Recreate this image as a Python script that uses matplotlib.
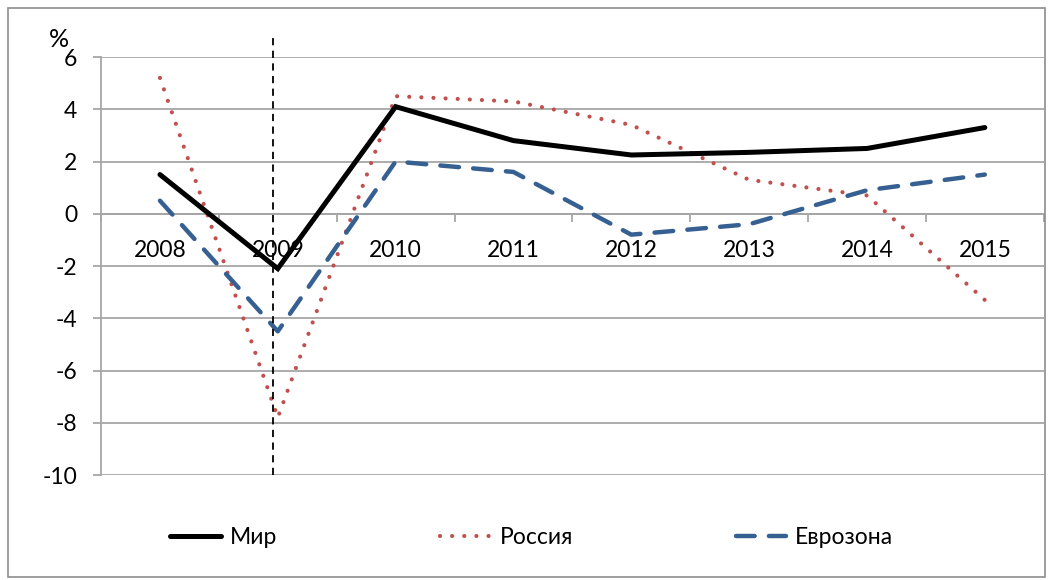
import matplotlib
matplotlib.use("Agg")
import matplotlib.pyplot as plt
from matplotlib.lines import Line2D
from matplotlib.patches import Rectangle

years = ["2008", "2009", "2010", "2011", "2012", "2013", "2014", "2015"]
world = [1.5, -2.1, 4.1, 2.8, 2.25, 2.35, 2.5, 3.3]
russia = [5.2, -7.8, 4.5, 4.3, 3.4, 1.3, 0.7, -3.3]
eurozone = [0.5, -4.5, 2.0, 1.6, -0.8, -0.4, 0.9, 1.5]

plt.rcParams['font.family'] = ['Lato', 'DejaVu Sans']
plt.rcParams['axes.unicode_minus'] = False

fig = plt.figure(figsize=(10.49, 5.8), dpi=100)
ax = fig.add_axes([0.0963, 0.181, 0.8987, 0.7207])

x = list(range(len(years)))
grid_col = "#a6a6a6"
red = "#c0504d"
blue = "#376092"
dots = (0, (0.01, 2.9))
dashes = (0, (4.2, 3.2))

ax.plot(x, world, color="black", lw=3.6, solid_capstyle="round",
        solid_joinstyle="miter", label="Мир", zorder=4)
ax.plot(x, russia, color=red, lw=3.0, linestyle=dots,
        dash_capstyle="round", label="Россия", zorder=3)
ax.plot(x, eurozone, color=blue, lw=3.2, linestyle=dashes,
        dash_capstyle="round", label="Еврозона", zorder=3)

# crisis marker
ax.axvline(0.96, ymin=0, ymax=1.057, color="black", lw=1.3,
           linestyle=(0, (4, 3)), clip_on=False, zorder=5)

ax.set_xlim(-0.5, len(years) - 0.5)
ax.set_ylim(-10, 6)
ax.set_yticks(range(-10, 7, 2))
ax.yaxis.grid(True, color=grid_col, lw=1.3)
ax.set_axisbelow(True)

for s in ["top", "right"]:
    ax.spines[s].set_visible(False)
ax.spines["left"].set_color(grid_col)
ax.spines["left"].set_linewidth(1.3)
ax.spines["bottom"].set_position(("data", 0))
ax.spines["bottom"].set_color(grid_col)
ax.spines["bottom"].set_linewidth(1.3)

ax.set_xticks(x)
ax.set_xticklabels(years)
ax.set_xticks([i + 0.5 for i in range(-1, len(years))], minor=True)
ax.tick_params(axis="x", which="major", length=0, pad=19, labelsize=16.5)
ax.tick_params(axis="x", which="minor", length=6, width=1.3, color=grid_col)
ax.tick_params(axis="y", length=6, width=1.3, color=grid_col, pad=11,
               labelsize=16.5)

fig.text(0.047, 0.932, "%", fontsize=18, ha="left", va="center")

handles = [
    Line2D([], [], color="black", lw=3.6, solid_capstyle="round"),
    Line2D([], [], color=red, lw=3.0, linestyle=dots, dash_capstyle="round"),
    Line2D([], [], color=blue, lw=3.2, linestyle=dashes, dash_capstyle="round"),
]
fig.legend(handles, ["Мир", "Россия", "Еврозона"], loc="center",
           bbox_to_anchor=(0.507, 0.073), ncol=3, frameon=False, fontsize=16.5,
           handlelength=2.2, handletextpad=0.4, columnspacing=7.1)

fig.patches.append(Rectangle((0.008, 0.005), 0.988, 0.981,
                             transform=fig.transFigure, fill=False,
                             edgecolor="#8c8c8c", lw=1.2))

fig.savefig("out.png", dpi=100)
